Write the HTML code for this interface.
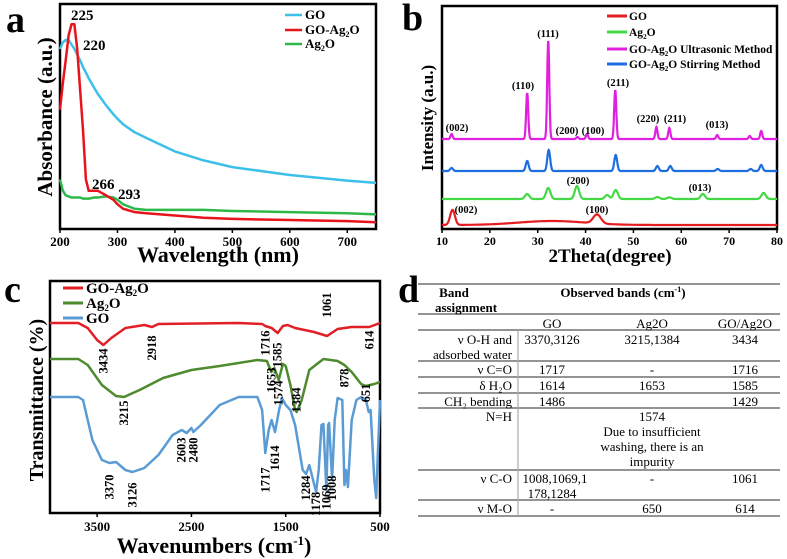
<!DOCTYPE html>
<html><head><meta charset="utf-8"><style>
html,body{margin:0;padding:0;background:#fff;}
svg{display:block;font-family:"Liberation Serif",serif;}
.b{font-weight:bold;}
</style></head><body>
<svg id="fig" width="787" height="559" viewBox="0 0 787 559">
<g>
<text x="6" y="32" class="b" font-size="38">a</text>
<rect x="60" y="4" width="316" height="225" fill="none" stroke="#000" stroke-width="2.5"/>
<text transform="translate(52,117) rotate(-90)" text-anchor="middle" class="b" font-size="21">Absorbance (a.u.)</text>
<text x="218" y="262" text-anchor="middle" class="b" font-size="22">Wavelength (nm)</text>
<g id="aTicks"></g><g id="aLines"></g>
<g font-size="13" class="b">
<line x1="285" y1="15" x2="302" y2="15" stroke="#3cc0ea" stroke-width="2.5"/><text x="305" y="19">GO</text>
<line x1="285" y1="30" x2="302" y2="30" stroke="#e8141c" stroke-width="2.5"/><text x="305" y="34">GO-Ag<tspan font-size="8" dy="3">2</tspan><tspan dy="-3">O</tspan></text>
<line x1="285" y1="44" x2="302" y2="44" stroke="#2fb84a" stroke-width="2.5"/><text x="305" y="48">Ag<tspan font-size="8" dy="3">2</tspan><tspan dy="-3">O</tspan></text>
</g>
<g font-size="15" class="b">
<text x="71" y="20">225</text><text x="83" y="50">220</text><text x="92" y="189">266</text><text x="118" y="199">293</text>
</g>
</g>
<g>
<text x="402" y="30" class="b" font-size="38">b</text>
<rect x="442" y="6" width="335" height="223" fill="none" stroke="#000" stroke-width="2.5"/>
<text transform="translate(433,118) rotate(-90)" text-anchor="middle" class="b" font-size="17">Intensity (a.u.)</text>
<text x="610" y="262" text-anchor="middle" class="b" font-size="19">2Theta(degree)</text>
<g id="bTicks"></g><g id="bLines"></g>
<g font-size="11.5" class="b">
<line x1="607" y1="16" x2="627" y2="16" stroke="#e41e20" stroke-width="3"/><text x="629" y="20">GO</text>
<line x1="607" y1="32" x2="627" y2="32" stroke="#44d844" stroke-width="3"/><text x="629" y="36">Ag<tspan font-size="7" dy="3">2</tspan><tspan dy="-3">O</tspan></text>
<line x1="607" y1="49" x2="627" y2="49" stroke="#e020e0" stroke-width="3"/><text x="629" y="53">GO-Ag<tspan font-size="7" dy="3">2</tspan><tspan dy="-3">O Ultrasonic Method</tspan></text>
<line x1="607" y1="64" x2="627" y2="64" stroke="#1e6ee0" stroke-width="3"/><text x="629" y="68">GO-Ag<tspan font-size="7" dy="3">2</tspan><tspan dy="-3">O Stirring Method</tspan></text>
</g>
<g font-size="10.5" class="b" text-anchor="middle">
<text x="457" y="131">(002)</text><text x="523" y="89">(110)</text><text x="548" y="37">(111)</text>
<text x="567" y="134">(200)</text><text x="593" y="134">(100)</text><text x="618" y="86">(211)</text>
<text x="648" y="122">(220)</text><text x="675" y="122">(211)</text><text x="717" y="128">(013)</text>
<text x="578" y="184">(200)</text><text x="700" y="191">(013)</text>
<text x="466" y="213">(002)</text><text x="597" y="213">(100)</text>
</g>
</g>
<g>
<text x="4" y="302" class="b" font-size="38">c</text>
<rect x="50" y="281" width="330" height="232" fill="none" stroke="#000" stroke-width="2.5"/>
<text transform="translate(43,400) rotate(-90)" text-anchor="middle" class="b" font-size="20">Transmittance (%)</text>
<text x="214" y="553" text-anchor="middle" class="b" font-size="22">Wavenumbers (cm<tspan font-size="13" dy="-8">-1</tspan><tspan dy="8">)</tspan></text>
<g id="cTicks"></g><g id="cLines"></g>
<g font-size="15" class="b">
<line x1="63" y1="288" x2="83" y2="288" stroke="#e21e26" stroke-width="3"/><text x="86" y="293">GO-Ag<tspan font-size="9" dy="3">2</tspan><tspan dy="-3">O</tspan></text>
<line x1="63" y1="303" x2="83" y2="303" stroke="#4e8a2e" stroke-width="3"/><text x="86" y="308">Ag<tspan font-size="9" dy="3">2</tspan><tspan dy="-3">O</tspan></text>
<line x1="63" y1="318" x2="83" y2="318" stroke="#5b9bd5" stroke-width="3"/><text x="86" y="323">GO</text>
</g>
<g id="cLabels" font-size="12.5" class="b" text-anchor="middle"></g>
</g>
<g font-size="13">
<text x="398" y="302" class="b" font-size="38">d</text>
<g stroke="#555" stroke-width="1.2">
<line x1="418" y1="284" x2="780" y2="284"/><line x1="418" y1="314" x2="780" y2="314"/>
<line x1="418" y1="330" x2="780" y2="330"/><line x1="418" y1="361" x2="780" y2="361"/>
<line x1="418" y1="377" x2="780" y2="377"/><line x1="418" y1="393" x2="780" y2="393"/>
<line x1="418" y1="408" x2="780" y2="408"/><line x1="418" y1="470" x2="780" y2="470"/>
<line x1="418" y1="500" x2="780" y2="500"/><line x1="418" y1="516" x2="780" y2="516"/>
<line x1="518" y1="330" x2="518" y2="516" stroke="#aaa"/>
</g>
<text x="454" y="297" class="b" text-anchor="middle">Band</text>
<text x="466" y="312" class="b" text-anchor="middle">assignment</text>
<text x="623" y="297" class="b" text-anchor="middle">Observed bands (cm<tspan font-size="8" dy="-5">-1</tspan><tspan dy="5">)</tspan></text>
<g text-anchor="middle">
<text x="552" y="328">GO</text><text x="652" y="328">Ag2O</text><text x="745" y="328">GO/Ag2O</text>
<text x="552" y="344">3370,3126</text><text x="652" y="344">3215,1384</text><text x="745" y="344">3434</text>
<text x="552" y="374">1717</text><text x="652" y="374">-</text><text x="745" y="374">1716</text>
<text x="552" y="390">1614</text><text x="652" y="390">1653</text><text x="745" y="390">1585</text>
<text x="552" y="406">1486</text><text x="745" y="406">1429</text>
<text x="652" y="421">1574</text><text x="652" y="436">Due to insufficient</text><text x="652" y="451">washing, there is an</text><text x="652" y="466">impurity</text>
<text x="555" y="483">1008,1069,1</text><text x="552" y="498">178,1284</text><text x="652" y="483">-</text><text x="745" y="483">1061</text>
<text x="552" y="513">-</text><text x="652" y="513">650</text><text x="745" y="513">614</text>
</g>
<g text-anchor="end">
<text x="512" y="344">ν O-H and</text><text x="512" y="359">adsorbed water</text>
<text x="512" y="374">ν C=O</text><text x="512" y="390">δ H₂O</text><text x="512" y="406">CH₂ bending</text>
<text x="512" y="421">N=H</text><text x="512" y="483">ν C-O</text><text x="512" y="513">ν M-O</text>
</g>
</g>
</svg>
<script>
const uvWavelength = [200,205,210,215,220,225,230,235,240,245,250,260,266,280,293,300,310,330,350,400,450,500,600,700,750];
const uvGO =   [0.80,0.83,0.84,0.84,0.82,0.80,0.775,0.75,0.72,0.695,0.67,0.625,0.60,0.55,0.51,0.49,0.465,0.43,0.405,0.345,0.305,0.275,0.24,0.215,0.205];
const uvGOAg = [0.53,0.65,0.75,0.86,0.91,0.91,0.80,0.62,0.44,0.22,0.17,0.17,0.17,0.15,0.13,0.11,0.09,0.075,0.07,0.06,0.05,0.045,0.04,0.035,0.03];
const uvAg =   [0.22,0.17,0.15,0.145,0.14,0.14,0.14,0.14,0.135,0.135,0.135,0.14,0.14,0.145,0.14,0.13,0.11,0.09,0.085,0.085,0.085,0.08,0.075,0.07,0.065];
const uvTicks = [200,300,400,500,600,700];
const xrdTicks = [10,20,30,40,50,60,70,80];
const xrdOffsets = [2,15,29,45];
const xrdRedPos = [12.2,42.4,33], xrdRedH = [7.5,4.5,2], xrdRedW = [0.5,0.8,7];
const xrdGreenPos = [27.8,32.2,38.2,44.5,46.3,55,57.5,64.5,77.2], xrdGreenH = [2.5,5.5,6.5,2,4.5,1,0.8,2.5,3];
const xrdBluePos = [12,27.8,32.3,46.3,55,57.7,67.6,74.5,76.7], xrdBlueH = [1.5,5,10.5,8,2.5,2.5,1,1,3];
const xrdMagPos = [12,27.8,32.2,38.3,40.3,46.2,54.8,57.5,67.5,74.3,76.7], xrdMagH = [2.5,23,49,1,2.5,24.5,6,5.5,2,1.5,4];
const ftirTicks = [3500,2500,1500,500];
const ftirRedWn = [4000,3700,3600,3500,3434,3350,3200,3000,2918,2850,2000,1750,1716,1650,1585,1530,1480,1400,1200,1061,950,800,614,500];
const ftirRedT  = [95,95,92.5,86.5,84,87.5,92.5,94,93,94.5,95,94.5,93.5,92.5,90,93.5,94,92.5,90.5,88.5,92,93,93,95];
const ftirGreenWn = [4000,3700,3600,3450,3300,3215,3050,2800,2500,2200,1800,1700,1653,1620,1574,1530,1500,1450,1400,1384,1330,1250,1100,950,878,800,700,651,560,500];
const ftirGreenT  = [77,77,74,64,58.5,58,61.5,67.5,71.5,73.5,76.5,76,70.5,72.5,66.5,74.5,73.5,64,51.5,50.5,56.5,71.5,77,76,74,70.5,64.5,63.5,64.5,65.5];
const ftirBlueWn = [4000,3700,3650,3550,3450,3370,3300,3200,3126,3000,2850,2700,2603,2550,2500,2480,2400,2200,2000,1800,1750,1717,1680,1650,1614,1570,1540,1500,1450,1400,1320,1284,1250,1178,1150,1120,1100,1069,1050,1040,1008,980,950,900,878,860,840,800,750,700,650,620,600,560,540,525,500];
const ftirBlueT  = [58,58,56.5,36.5,26.5,25,25.5,21.5,20.5,22.5,29,39,41.5,40,42.5,40.5,44,54,58,58,51.5,30,41.5,46.5,40.5,51.5,57.5,54,51.5,44,21.5,19.5,24,10.5,21.5,44,44.5,11.5,44,45,16.5,46.5,57.5,56.5,14,21.5,13,46.5,56.5,58,56.5,50.5,51.5,16.5,7.5,26.5,56.5];
const ftirLabelText = ["3434","2918","1716","1585","1061","614","3215","1653","1574","1384","878","651","3370","3126","2603","2480","1717","1614","1284","1178","1069","1008"];
const ftirLabelWn   = [3434,2918,1716,1585,1061,614,3215,1653,1574,1384,878,651,3370,3126,2603,2480,1717,1614,1284,1178,1069,1008];

const NS = "http://www.w3.org/2000/svg";
function mk(tag, attrs, parent){const e=document.createElementNS(NS,tag);for(const k in attrs)e.setAttribute(k,attrs[k]);parent.appendChild(e);return e;}

const ax = w => 60 + (w-200)/(750-200)*316;
const ay = a => 229 - a*225;
const aT = document.getElementById('aTicks');
uvTicks.forEach(t=>{
  const l=mk('line',{x1:ax(t),x2:ax(t),y1:229,y2:233,stroke:'#000','stroke-width':1.5},aT);
  
  
  const tx=mk('text',{x:ax(t),y:246,'text-anchor':'middle','font-size':13,'font-weight':'bold'},aT);
  tx.textContent=t;
  
  
});
const aL = document.getElementById('aLines');
[[uvGO,'#3cc0ea','uv-line-go'],[uvAg,'#2fb84a','uv-line-ag2o'],[uvGOAg,'#e8141c','uv-line-go-ag2o']].forEach(([s,c,n])=>{
  const d=s.map((v,i)=>(i?'L':'M')+ax(uvWavelength[i]).toFixed(1)+','+ay(v).toFixed(1)).join('');
  const p=mk('path',{d:d,fill:'none',stroke:c,'stroke-width':2.5,'stroke-linejoin':'round'},aL);
  
  
});

const bx = t => 442 + (t-10)/70*335;
const by = i => 229 - i*2;
const bT = document.getElementById('bTicks');
xrdTicks.forEach(t=>{
  const l=mk('line',{x1:bx(t),x2:bx(t),y1:229,y2:233,stroke:'#000','stroke-width':1.5},bT);
  
  
  const tx=mk('text',{x:bx(t),y:245,'text-anchor':'middle','font-size':12,'font-weight':'bold'},bT);
  tx.textContent=t;
  
  
});
function xrdPath(off,pos,h,w,defW){
  let d='';
  for(let t=10;t<=80.001;t+=0.05){
    let v=off;
    for(let k=0;k<pos.length;k++){const s=w?w[k]:defW;v+=h[k]*Math.exp(-((t-pos[k])**2)/(2*s*s));}
    d+=(d?'L':'M')+bx(t).toFixed(1)+','+by(v).toFixed(1);
  }
  return d;
}
const bL = document.getElementById('bLines');
[[xrdPath(xrdOffsets[0],xrdRedPos,xrdRedH,xrdRedW,0.5),'#e41e20','xrd-line-go'],
 [xrdPath(xrdOffsets[1],xrdGreenPos,xrdGreenH,null,0.45),'#44d844','xrd-line-ag2o'],
 [xrdPath(xrdOffsets[2],xrdBluePos,xrdBlueH,null,0.3),'#1e6ee0','xrd-line-stirring'],
 [xrdPath(xrdOffsets[3],xrdMagPos,xrdMagH,null,0.22),'#e020e0','xrd-line-ultrasonic']].forEach(([d,c,n])=>{
  const p=mk('path',{d:d,fill:'none',stroke:c,'stroke-width':2.2},bL);
  
  
});

const cx = w => 50 + (4000-w)/3500*330;
const cy = t => 513 - t*2;
const cT = document.getElementById('cTicks');
ftirTicks.forEach(t=>{
  const l=mk('line',{x1:cx(t),x2:cx(t),y1:513,y2:517,stroke:'#000','stroke-width':1.5},cT);
  
  
  const tx=mk('text',{x:cx(t),y:531,'text-anchor':'middle','font-size':13,'font-weight':'bold'},cT);
  tx.textContent=t;
  
  
});
const cL = document.getElementById('cLines');
[[ftirRedWn,ftirRedT,'#e21e26','ftir-line-go-ag2o'],[ftirGreenWn,ftirGreenT,'#4e8a2e','ftir-line-ag2o'],[ftirBlueWn,ftirBlueT,'#5b9bd5','ftir-line-go']].forEach(([wn,tv,c,n])=>{
  const d=tv.map((v,i)=>(i?'L':'M')+cx(wn[i]).toFixed(1)+','+cy(v).toFixed(1)).join('');
  const p=mk('path',{d:d,fill:'none',stroke:c,'stroke-width':2.5,'stroke-linejoin':'round'},cL);
  
  
});
const cLabY = [361,348,343,355,305,340,413,380,393,400,378,393,487,495,450,450,480,458,488,504,497,488];
const cLab = document.getElementById('cLabels');
ftirLabelText.forEach((s,i)=>{
  const x=cx(ftirLabelWn[i])+4, y=cLabY[i];
  const tx=mk('text',{transform:`translate(${x.toFixed(1)},${y}) rotate(-90)`},cLab);
  tx.textContent=s;
  
  
});
</script>
</body></html>
